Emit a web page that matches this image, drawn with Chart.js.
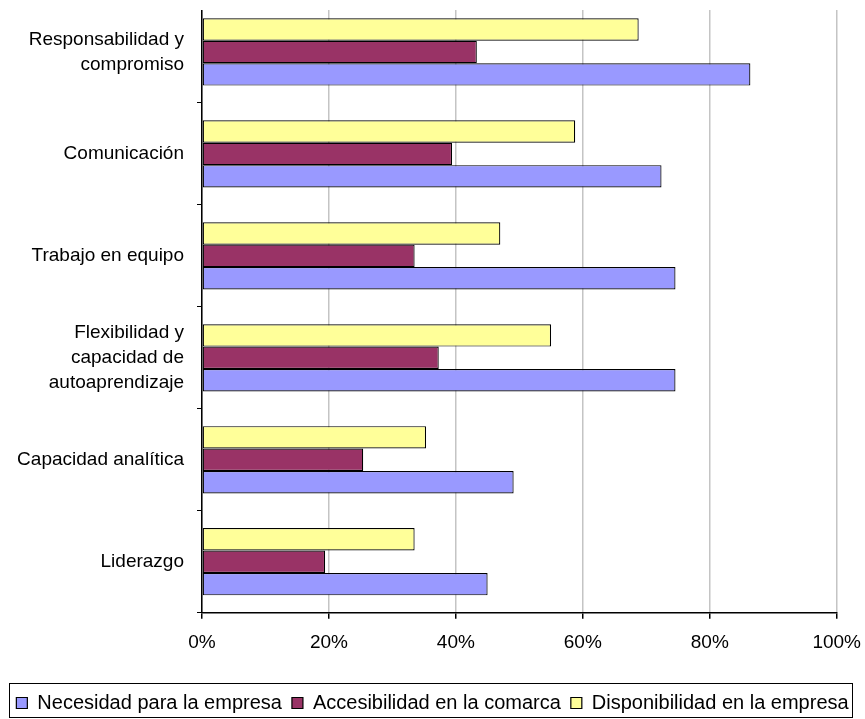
<!DOCTYPE html>
<html lang="es">
<head>
<meta charset="utf-8">
<title>Competencias</title>
<script src="https://cdn.jsdelivr.net/npm/chart.js@4.4.1/dist/chart.umd.min.js"></script>
<style>
  html, body { margin: 0; padding: 0; background: #fff; }
  #wrap { width: 865px; height: 719px; }
</style>
</head>
<body>
<div id="wrap"><canvas id="competenciasChart" width="865" height="719"></canvas></div>
<script>
// competencias - valores en porcentaje
const categorias = [
    ['Responsabilidad y', 'compromiso'],
    'Comunicación',
    'Trabajo en equipo',
    ['Flexibilidad y', 'capacidad de', 'autoaprendizaje'],
    'Capacidad analítica',
    'Liderazgo'
];
const necesidadEmpresa = [86.4, 72.4, 74.6, 74.6, 49.1, 45.0];
const accesibilidadComarca = [43.3, 39.4, 33.5, 37.3, 25.4, 19.4];
const disponibilidadEmpresa = [68.8, 58.8, 47.0, 55.0, 35.3, 33.5];
const ticksX = [0, 20, 40, 60, 80, 100];

const fuente = "'Liberation Sans', Arial, sans-serif";

// recuadro alrededor de la leyenda
const marcoLeyenda = {
    id: 'marcoLeyenda',
    afterDraw(chart) {
        const lg = chart.legend;
        if (!lg || !lg.legendHitBoxes || !lg.legendHitBoxes.length) return;
        const boxes = lg.legendHitBoxes;
        const last = boxes[boxes.length - 1];
        const left = Math.round(boxes[0].left - 7) + 0.5;
        const right = Math.round(last.left + last.width + 3) + 0.5;
        const top = Math.round(boxes[0].top - 10) + 0.5;
        const bottom = Math.round(boxes[0].top + 24) + 0.5;
        const ctx = chart.ctx;
        ctx.save();
        ctx.strokeStyle = '#000';
        ctx.lineWidth = 1;
        ctx.strokeRect(left, top, right - left, bottom - top);
        ctx.restore();
    }
};

// el eje y las guias empiezan algo por debajo del borde superior
const margenSuperior = {
    id: 'margenSuperior',
    beforeDatasetsDraw(chart) {
        const a = chart.chartArea;
        const ctx = chart.ctx;
        ctx.save();
        ctx.fillStyle = '#fff';
        ctx.fillRect(a.left - 8, 0, a.right - a.left + 12, 10);
        ctx.restore();
    }
};

const ctx = document.getElementById('competenciasChart');

new Chart(ctx, {
    type: 'bar',
    data: {
        labels: categorias,
        datasets: [
            {
                label: 'Disponibilidad en la empresa',
                data: disponibilidadEmpresa,
                backgroundColor: '#FFFF99'
            },
            {
                label: 'Accesibilidad en la comarca',
                data: accesibilidadComarca,
                backgroundColor: '#993366'
            },
            {
                label: 'Necesidad para la empresa',
                data: necesidadEmpresa,
                backgroundColor: '#9999FF'
            }
        ].map(d => Object.assign(d, {
            borderColor: '#000',
            borderWidth: 1.2,
            borderSkipped: false,
            categoryPercentage: 0.66,
            barPercentage: 1.0
        }))
    },
    options: {
        indexAxis: 'y',
        responsive: false,
        animation: false,
        devicePixelRatio: 1,
        layout: {
            padding: { top: 1, right: 0, bottom: -4, left: 0 }
        },
        plugins: {
            legend: {
                position: 'bottom',
                reverse: true,
                labels: {
                    color: '#000',
                    boxWidth: 11,
                    boxHeight: 11,
                    padding: 10,
                    font: { family: fuente, size: 20 }
                }
            },
            tooltip: { enabled: false }
        },
        scales: {
            x: {
                min: 0,
                max: 100,
                afterBuildTicks(scale) {
                    scale.ticks = ticksX.map(v => ({ value: v }));
                },
                afterFit(scale) {
                    scale.height = 70.3;
                    scale.paddingRight = 28.3;
                },
                grid: {
                    color: '#c4c4c4',
                    lineWidth: 1.5,
                    tickColor: '#000',
                    tickLength: 6
                },
                border: { color: '#000', width: 1.5 },
                ticks: {
                    color: '#000',
                    padding: 13,
                    maxRotation: 0,
                    font: { family: fuente, size: 19 },
                    callback: v => v + '%'
                }
            },
            y: {
                afterFit(scale) {
                    scale.width = 202;
                    scale.paddingTop = 0;
                    scale.paddingBottom = 0;
                },
                grid: {
                    drawOnChartArea: false,
                    drawTicks: true,
                    tickLength: 5,
                    tickColor: '#000',
                    offset: true
                },
                border: { color: '#000', width: 1.5 },
                ticks: {
                    color: '#000',
                    padding: 13,
                    font: { family: fuente, size: 19, lineHeight: 1.32 }
                }
            }
        }
    },
    plugins: [marcoLeyenda, margenSuperior]
});
</script>
</body>
</html>
